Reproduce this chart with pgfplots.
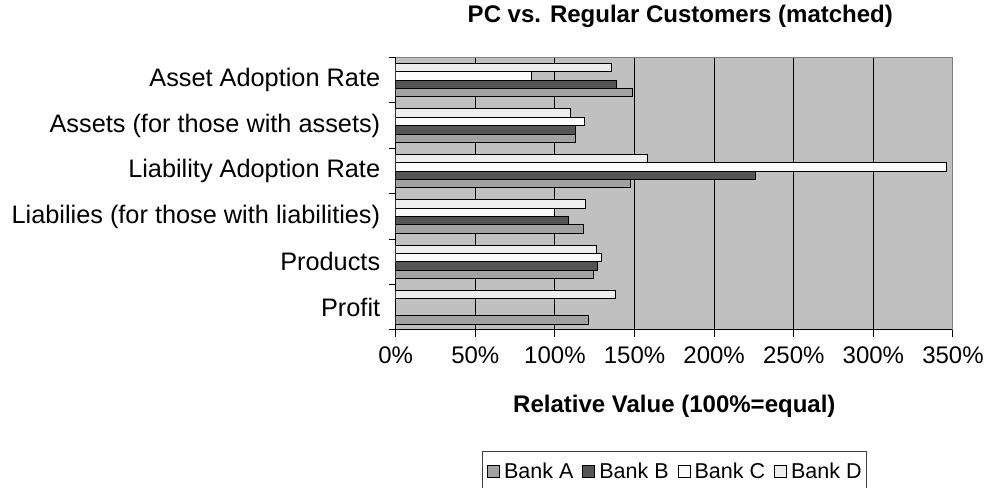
\documentclass[border=0pt]{standalone}
\usepackage{fontspec}
\setmainfont{Liberation Sans}
\usepackage{pgfplots}
\pgfplotsset{compat=1.18}
\definecolor{bankA}{HTML}{A2A2A2}
\definecolor{bankB}{HTML}{555555}
\definecolor{bankC}{HTML}{FBFBFB}
\definecolor{bankD}{HTML}{EEEEEE}
\definecolor{plotbg}{HTML}{C0C0C0}
\definecolor{framegray}{HTML}{808080}
\begin{document}
\begin{tikzpicture}
\begin{axis}[
  scale only axis, width=557bp, height=272.3bp,
  xmin=0, xmax=350, ymin=-0.5, ymax=5.5,
  xbar, bar width=8.35bp,
  axis background/.style={fill=plotbg},
  axis x line*=bottom, axis y line*=left,
  axis line style={black, line width=1bp, -},
  tick align=outside,
  major tick length=7bp,
  tick style={black, line width=1bp},
  xtick={0,50,...,350},
  xticklabels={0\%,50\%,100\%,150\%,200\%,250\%,300\%,350\%},
  ytick={-0.5,0.5,1.5,2.5,3.5,4.5,5.5},
  yticklabels={{},Profit,Products,{Liabilies (for those with liabilities)},{Liability Adoption Rate},{Assets (for those with assets)},{Asset Adoption Rate}},
  yticklabel style={yshift=-22.7bp, xshift=-5bp, font=\fontsize{25.3bp}{29bp}\selectfont},
  xticklabel style={yshift=-6bp, font=\fontsize{24bp}{28bp}\selectfont},
  xmajorgrids, grid style={black, line width=1bp},
  title={PC vs. Regular Customers (matched)},
  title style={font=\bfseries\fontsize{24bp}{28bp}\selectfont, at={(axis description cs:0.5,1)}, anchor=base, yshift=29.5bp, xshift=6bp},
  xlabel={Relative Value (100\%=equal)},
  xlabel style={font=\bfseries\fontsize{24bp}{28bp}\selectfont, at={(axis description cs:0.5,0)}, anchor=base, yshift=-82bp},
  legend columns=4,
  legend style={at={(axis description cs:0.5,0)}, anchor=north, yshift=-121bp, draw=black!75, line width=0.8bp,
    font=\fontsize{21.5bp}{25bp}\selectfont, inner xsep=5bp, inner ysep=9bp,
    nodes={inner xsep=0bp},
    /tikz/every odd column/.append style={column sep=4bp},
    /tikz/every even column/.append style={column sep=9bp}},
  legend image code/.code={\draw[#1] (0bp,-6bp) rectangle (12bp,6bp);},
]
\addplot[fill=bankA, draw=black, line width=0.9bp, bar shift=-12.525bp]
  coordinates {(148.6,5) (113.1,4) (147.3,3) (117.7,2) (124.0,1) (120.8,0)};
\addplot[fill=bankB, draw=black, line width=0.9bp, bar shift=-4.175bp]
  coordinates {(138.6,5) (113.1,4) (225.7,3) (108.5,2) (126.9,1)};
\addplot[fill=bankC, draw=black, line width=0.9bp, bar shift=4.175bp]
  coordinates {(85.5,5) (118.5,4) (345.7,3) (100.0,2) (129.2,1)};
\addplot[fill=bankD, draw=black, line width=0.9bp, bar shift=12.525bp]
  coordinates {(135.2,5) (110.0,4) (158.2,3) (119.4,2) (126.0,1) (137.7,0)};
\legend{Bank A, Bank B, Bank C, Bank D}
\draw[framegray, line width=1.5bp] (rel axis cs:0,1) -- (rel axis cs:1,1) -- (rel axis cs:1,0);
\coordinate (bl) at (rel axis cs:0,0);
\coordinate (tr) at (rel axis cs:1,1);
\end{axis}
\pgfresetboundingbox
\path[use as bounding box] ([xshift=-395.5bp,yshift=-157bp]bl) rectangle ([xshift=33bp,yshift=57.5bp]tr);
\end{tikzpicture}
\end{document}
